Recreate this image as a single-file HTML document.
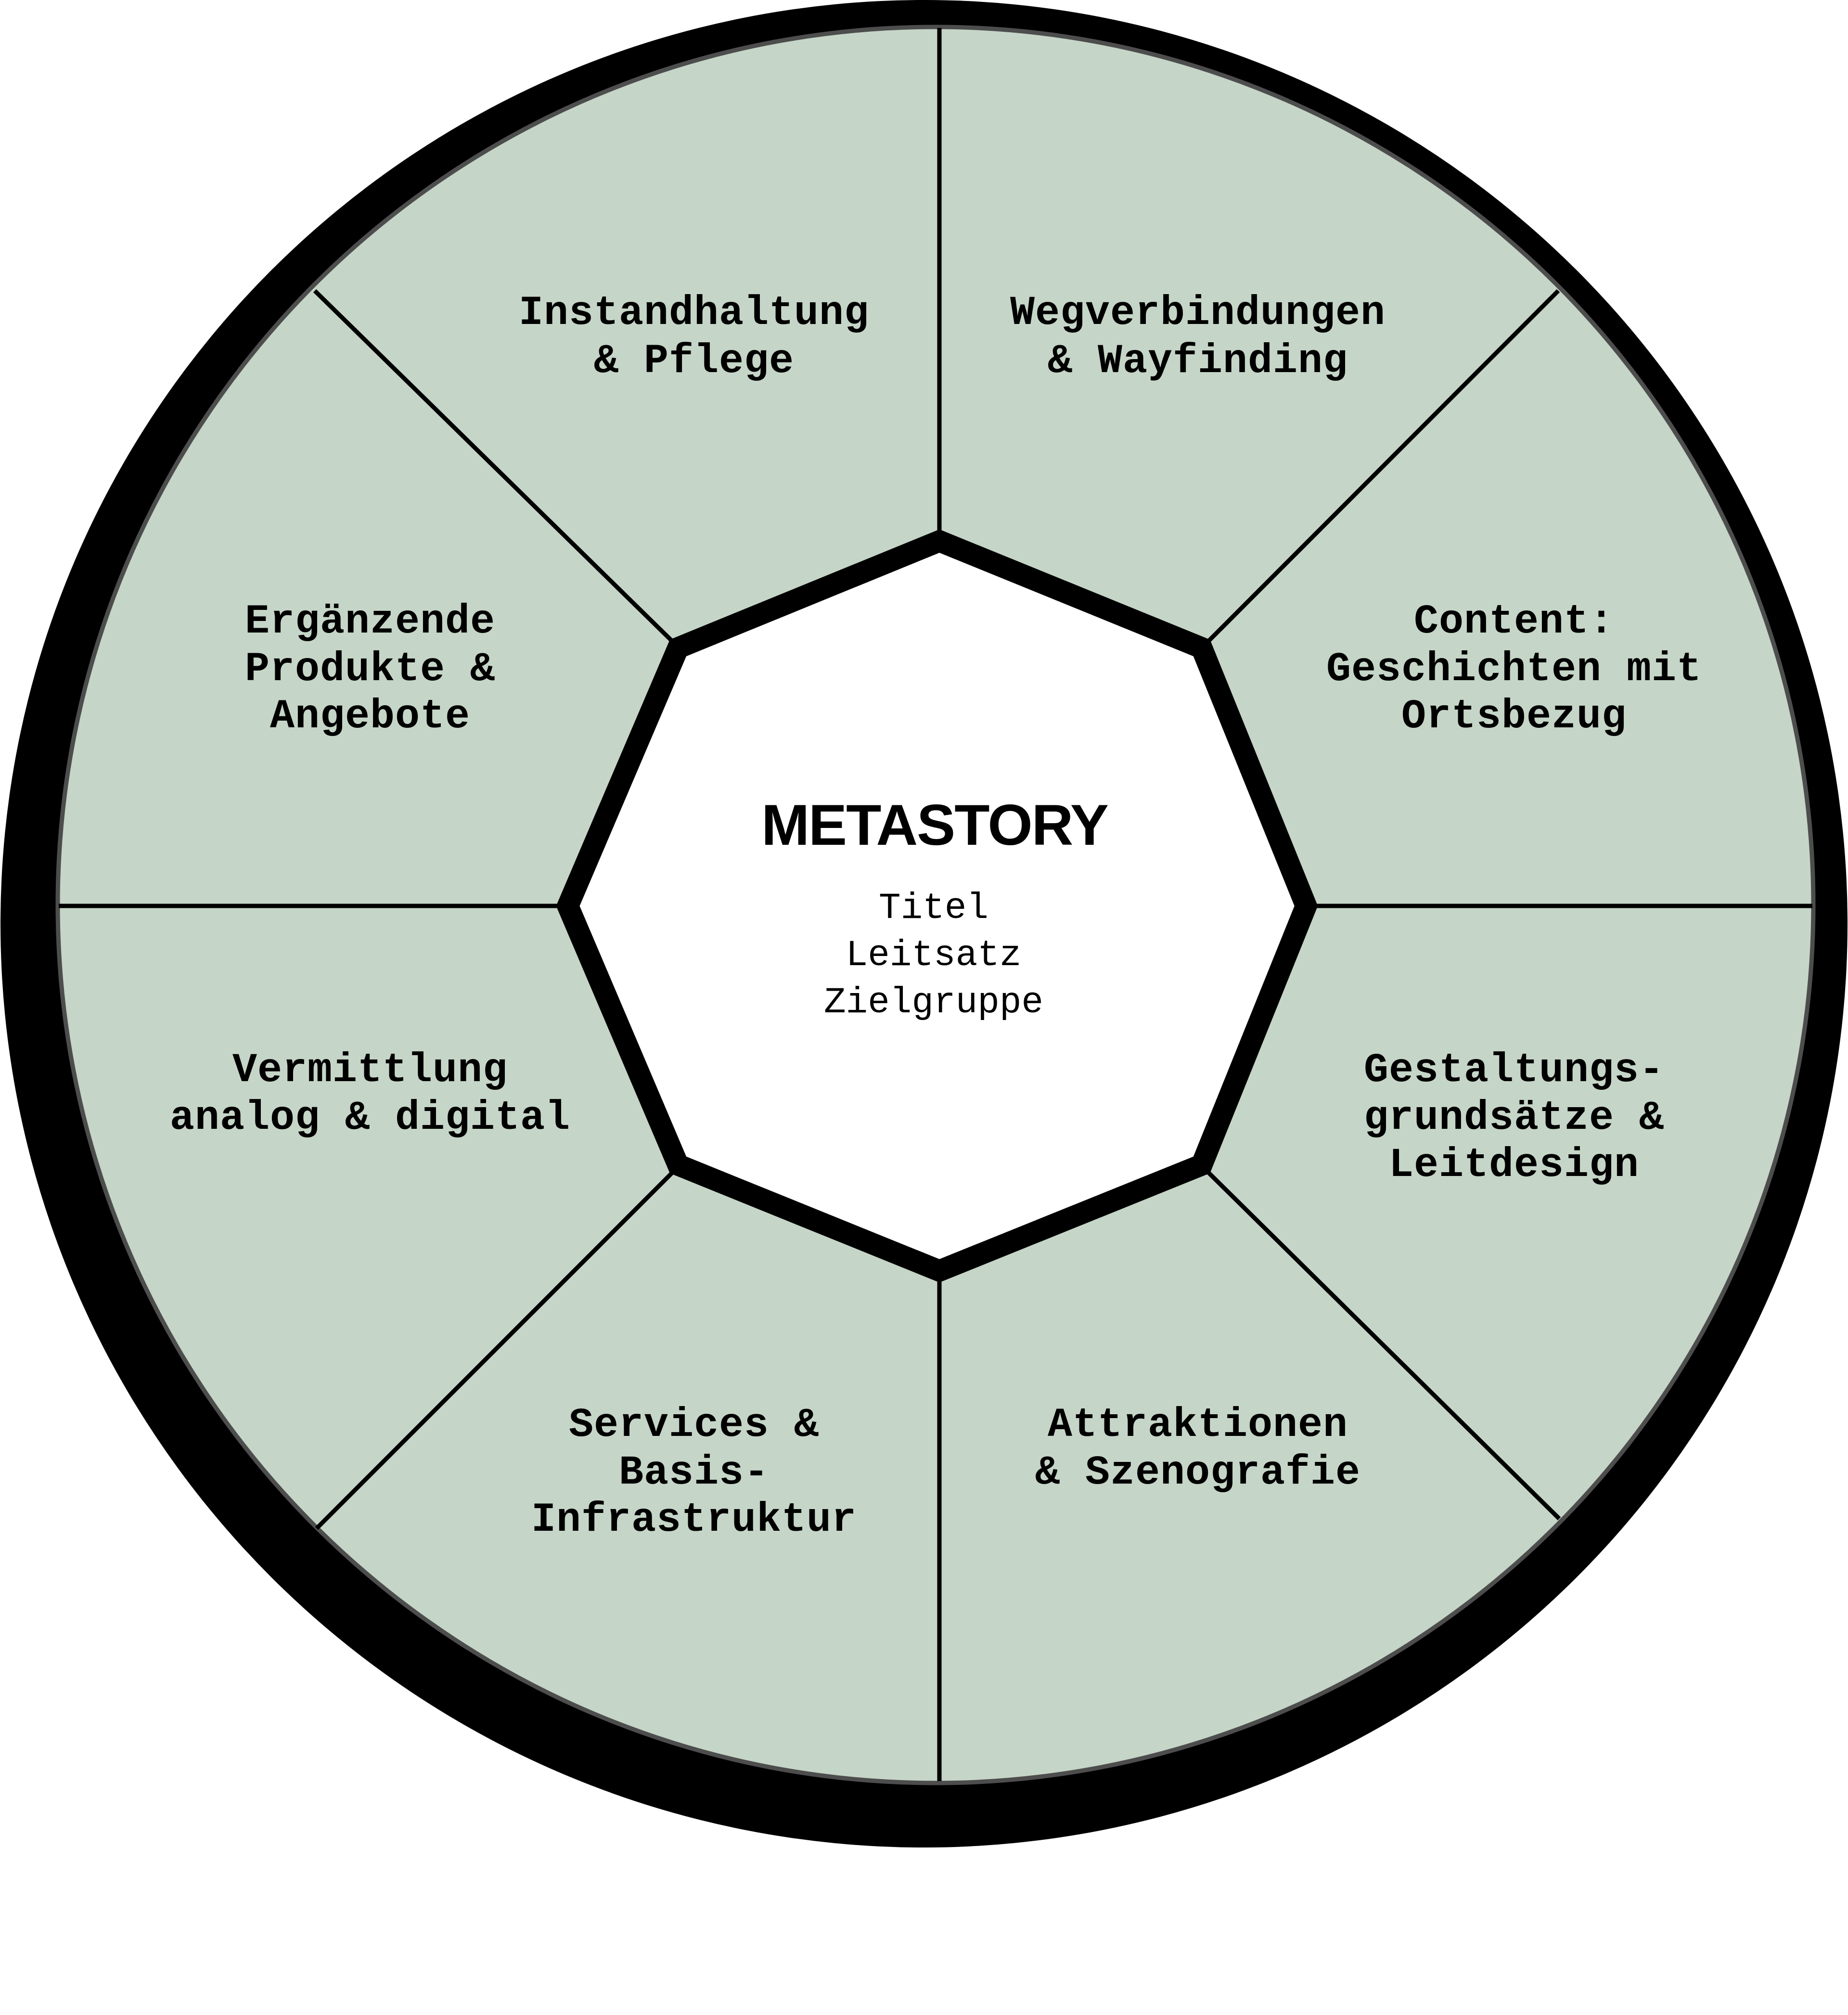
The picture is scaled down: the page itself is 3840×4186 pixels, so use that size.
<!DOCTYPE html>
<html><head><meta charset="utf-8"><style>
html,body{margin:0;padding:0;background:#fff;}
svg{display:block;}
.l{font-family:"Liberation Mono",monospace;font-weight:bold;font-size:85px;letter-spacing:1px;fill:#000;text-anchor:middle;}
.s{font-family:"Liberation Mono",monospace;font-size:76px;fill:#000;text-anchor:middle;}
.t{font-family:"Liberation Sans",sans-serif;font-weight:bold;font-size:120px;fill:#000;text-anchor:middle;letter-spacing:-2px;}
</style></head><body>
<svg width="3840" height="4186" viewBox="0 0 3840 4186" xmlns="http://www.w3.org/2000/svg">
<circle cx="1920" cy="1919" r="1919" fill="#000"/>
<circle cx="1944" cy="1880" r="1824" fill="#c5d5c7" stroke="#4d4d4d" stroke-width="9"/>
<g stroke="#000" stroke-width="9">
<line x1="1952" y1="58" x2="1952" y2="1120"/>
<line x1="1952" y1="2640" x2="1952" y2="3700"/>
<line x1="122" y1="1882" x2="1180" y2="1882"/>
<line x1="2712" y1="1882" x2="3766" y2="1882"/>
<line x1="654" y1="604" x2="1409" y2="1344"/>
<line x1="3238" y1="604" x2="2499" y2="1344"/>
<line x1="658" y1="3175" x2="1409" y2="2424"/>
<line x1="3240" y1="3155" x2="2499" y2="2424"/>
</g>
<polygon points="1952,1124 2497,1346 2714,1882 2497,2420 1952,2640 1409,2420 1180,1882 1409,1346" fill="#fff" stroke="#000" stroke-width="45" stroke-linejoin="miter"/>
<text class="t" x="1942" y="1755">METASTORY</text>
<text class="s" x="1940" y="1907">Titel</text>
<text class="s" x="1940" y="2005">Leitsatz</text>
<text class="s" x="1940" y="2103">Zielgruppe</text>

<text class="l" x="1442" y="673">Instandhaltung</text>
<text class="l" x="1442" y="773">&amp; Pflege</text>
<text class="l" x="2489" y="673">Wegverbindungen</text>
<text class="l" x="2489" y="773">&amp; Wayfinding</text>

<text class="l" x="769" y="1314">Ergänzende</text>
<text class="l" x="769" y="1413">Produkte &amp;</text>
<text class="l" x="769" y="1511">Angebote</text>
<text class="l" x="3146" y="1314">Content:</text>
<text class="l" x="3146" y="1413">Geschichten mit</text>
<text class="l" x="3146" y="1511">Ortsbezug</text>

<text class="l" x="769" y="2246">Vermittlung</text>
<text class="l" x="769" y="2345">analog &amp; digital</text>
<text class="l" x="3146" y="2246">Gestaltungs-</text>
<text class="l" x="3146" y="2345">grundsätze &amp;</text>
<text class="l" x="3146" y="2443">Leitdesign</text>

<text class="l" x="1442" y="2983">Services &amp;</text>
<text class="l" x="1442" y="3082">Basis-</text>
<text class="l" x="1442" y="3180">Infrastruktur</text>
<text class="l" x="2489" y="2983">Attraktionen</text>
<text class="l" x="2489" y="3082">&amp; Szenografie</text>
</svg>
</body></html>
